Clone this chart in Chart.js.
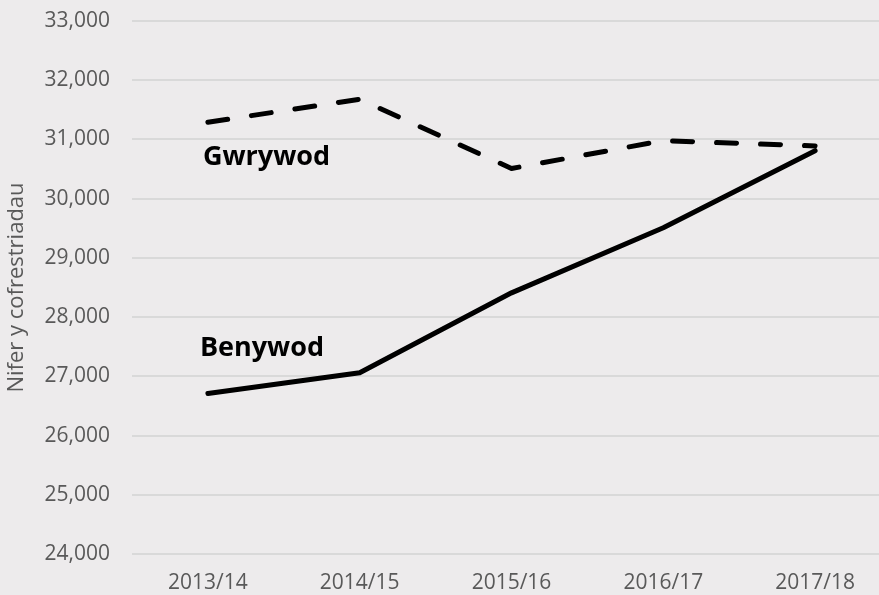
<!DOCTYPE html>
<html>
<head>
<meta charset="utf-8">
<script src="https://cdn.jsdelivr.net/npm/chart.js@4.4.1/dist/chart.umd.min.js"></script>
<style>
  html, body { margin: 0; padding: 0; background: #EDEBEC; overflow: hidden; width: 879px; height: 595px; }
  #wrap { width: 891px; height: 595px; }
</style>
</head>
<body>
<div id="wrap"><canvas id="c" width="891" height="595"></canvas></div>
<script>
const categories = ['2013/14', '2014/15', '2015/16', '2016/17', '2017/18'];
const gwrywod = [31290, 31680, 30510, 30980, 30890];
const benywod = [26710, 27060, 28410, 29510, 30810];
const seriesNames = ['Gwrywod', 'Benywod'];
const axisTitle = 'Nifer y cofrestriadau';
const yMin = 24000, yMax = 33000, yStep = 1000;

const FONT = "'Open Sans', 'Liberation Sans', sans-serif";

const inlineLabels = {
  id: 'inlineLabels',
  afterDatasetsDraw(chart) {
    const { ctx, scales: { x, y } } = chart;
    const spots = [
      { text: seriesNames[0], xi: 0, dx: -5, v: 30705 },
      { text: seriesNames[1], xi: 0, dx: -8, v: 27480 }
    ];
    ctx.save();
    ctx.font = "bold 27px " + FONT;
    ctx.fillStyle = '#000';
    ctx.textAlign = 'left';
    ctx.textBaseline = 'middle';
    spots.forEach(s => {
      ctx.fillText(s.text, x.getPixelForValue(s.xi) + s.dx, y.getPixelForValue(s.v));
    });
    ctx.restore();
  }
};

new Chart(document.getElementById('c'), {
  type: 'line',
  data: {
    labels: categories,
    datasets: [
      {
        label: seriesNames[0],
        data: gwrywod,
        borderColor: '#000',
        borderWidth: 5,
        borderDash: [20, 24],
        borderCapStyle: 'round',
        borderJoinStyle: 'round',
        pointRadius: 0,
        tension: 0,
        fill: false
      },
      {
        label: seriesNames[1],
        data: benywod,
        borderColor: '#000',
        borderWidth: 5,
        borderCapStyle: 'round',
        borderJoinStyle: 'round',
        pointRadius: 0,
        tension: 0,
        fill: false
      }
    ]
  },
  options: {
    responsive: false,
    animation: false,
    layout: { padding: { top: 21, left: 0, right: 0, bottom: 0 } },
    plugins: {
      legend: { display: false },
      tooltip: { enabled: false }
    },
    scales: {
      x: {
        offset: true,
        grid: { display: false, drawTicks: false },
        border: { display: false },
        ticks: {
          color: '#595959',
          font: { family: FONT, size: 21 },
          padding: 16,
          maxRotation: 0
        },
        afterFit(scale) { scale.height = 41; }
      },
      y: {
        min: yMin,
        max: yMax,
        grid: { color: '#D9D9D9', lineWidth: 2, drawTicks: false },
        border: { display: false },
        ticks: {
          stepSize: yStep,
          color: '#595959',
          font: { family: FONT, size: 21 },
          padding: 22,
          callback: v => v.toLocaleString('en-US')
        },
        title: {
          display: true,
          text: axisTitle,
          color: '#595959',
          font: { family: FONT, size: 22 },
          padding: { top: 4, bottom: 0 }
        },
        afterFit(scale) {
          scale.width = 132;
          scale.paddingTop = 0;
          scale.paddingBottom = 0;
        }
      }
    }
  },
  plugins: [inlineLabels]
});
</script>
</body>
</html>
